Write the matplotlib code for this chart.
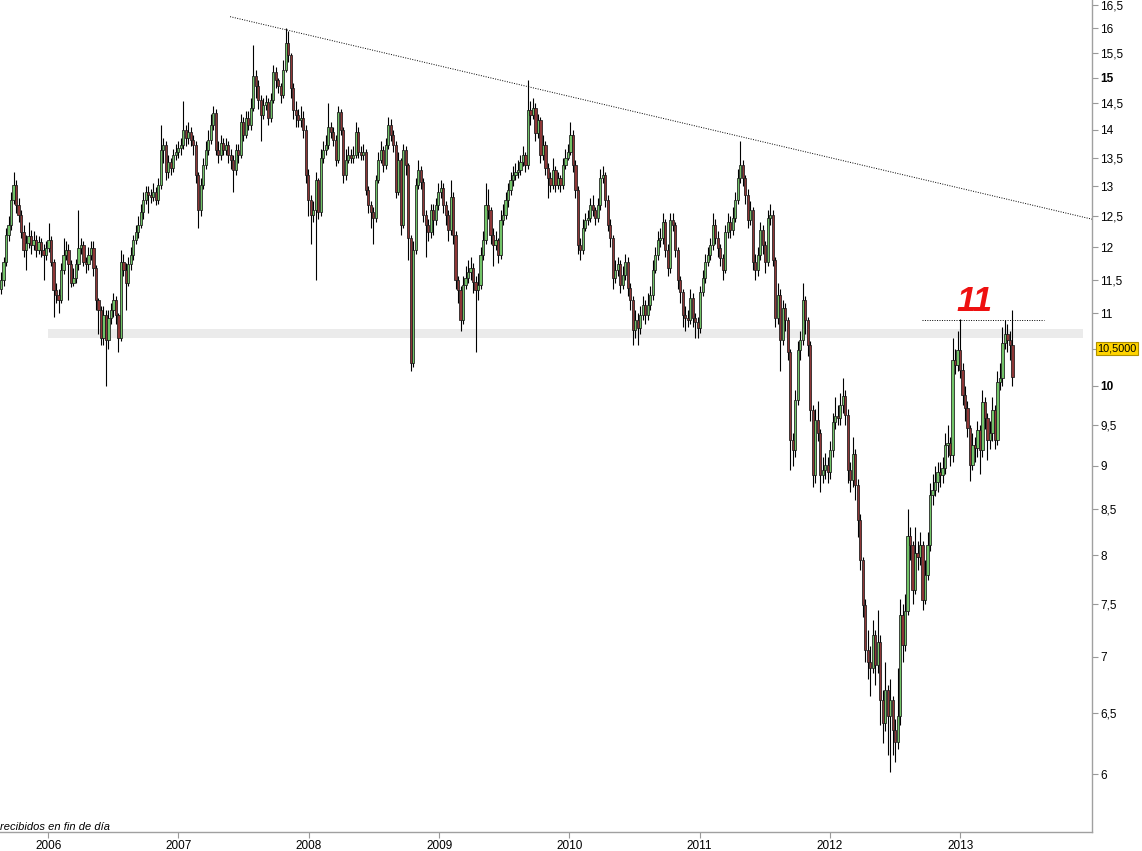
import numpy as np
import pandas as pd
import matplotlib
matplotlib.use('Agg')
import matplotlib.pyplot as plt
import matplotlib.dates as mdates
from matplotlib.ticker import NullLocator, NullFormatter
from matplotlib.transforms import blended_transform_factory

plt.rcParams['font.family'] = ['Liberation Sans', 'DejaVu Sans']

# weekly candles, first week of the series
week_start = '2005-08-22'
first_open = 11.35

closes = [
    11.49, 11.77, 12.19, 12.35, 12.77, 13.02, 12.68, 12.52, 12.24, 11.96,
    12.06, 12.17, 12.03, 12.11, 11.96, 12.08, 11.96, 11.88, 11.99, 12.11,
    11.77, 11.34, 11.27, 11.19, 11.65, 11.88, 11.96, 11.73, 11.45, 11.52,
    11.73, 11.99, 12.03, 11.77, 11.73, 11.88, 11.99, 11.68, 11.19, 11.05,
    10.65, 10.97, 10.62, 10.93, 11.05, 11.19, 10.97, 10.65, 11.77, 11.65,
    11.45, 11.73, 11.88, 12.11, 12.24, 12.35, 12.57, 12.77, 12.91, 12.86,
    12.82, 12.91, 12.77, 13.02, 13.64, 13.73, 13.25, 13.43, 13.32, 13.55,
    13.60, 13.67, 13.73, 14.00, 13.85, 13.96, 13.82, 13.73, 13.19, 12.60,
    13.02, 13.37, 13.64, 13.82, 14.10, 14.32, 13.64, 13.55, 13.76, 13.64,
    13.73, 13.55, 13.46, 13.28, 13.64, 13.55, 14.15, 13.91, 14.22, 14.10,
    14.41, 15.03, 14.84, 14.56, 14.28, 14.47, 14.52, 14.22, 14.56, 15.10,
    14.95, 14.84, 14.66, 15.15, 15.70, 15.45, 14.80, 14.37, 14.28, 14.19,
    14.22, 14.00, 13.19, 12.77, 12.52, 12.60, 13.11, 12.57, 13.50, 13.64,
    13.73, 14.06, 13.96, 13.82, 13.46, 14.34, 14.00, 13.19, 13.46, 13.55,
    13.50, 13.55, 13.96, 13.60, 13.55, 13.60, 12.94, 12.68, 12.57, 12.47,
    13.11, 13.46, 13.64, 13.37, 13.73, 14.10, 13.91, 13.73, 12.91, 13.46,
    12.35, 13.64, 13.37, 12.14, 10.31, 11.96, 13.02, 13.28, 13.08, 12.52,
    12.35, 12.24, 12.60, 12.44, 12.68, 12.91, 12.97, 12.68, 12.52, 12.27,
    12.82, 12.19, 11.49, 11.34, 10.90, 11.42, 11.52, 11.62, 11.68, 11.46,
    11.34, 11.42, 11.88, 12.11, 12.68, 12.60, 12.19, 12.03, 12.11, 11.88,
    12.44, 12.52, 12.77, 12.94, 13.11, 13.19, 13.25, 13.28, 13.43, 13.55,
    13.37, 14.37, 14.28, 14.41, 13.94, 14.19, 13.55, 13.73, 13.32, 13.14,
    13.02, 13.28, 13.02, 13.14, 13.02, 13.37, 13.50, 13.60, 13.91, 13.37,
    12.94, 12.03, 11.96, 12.30, 12.44, 12.47, 12.68, 12.60, 12.47, 12.68,
    13.15, 13.19, 12.77, 12.35, 12.14, 11.52, 11.65, 11.73, 11.42, 11.57,
    11.77, 11.37, 11.19, 10.76, 10.90, 10.79, 10.97, 11.12, 10.97, 11.12,
    11.27, 11.65, 11.88, 12.11, 12.14, 12.40, 11.96, 11.68, 12.44, 12.35,
    11.96, 11.49, 11.31, 10.97, 10.93, 10.90, 11.22, 10.93, 10.87, 10.79,
    11.31, 11.52, 11.77, 11.88, 12.03, 12.35, 12.14, 11.99, 11.83, 11.65,
    12.24, 12.40, 12.27, 12.47, 12.77, 13.14, 13.37, 13.14, 12.86, 12.44,
    12.60, 11.77, 11.65, 11.88, 12.27, 12.03, 11.77, 12.47, 12.52, 11.80,
    10.93, 11.27, 10.62, 11.08, 10.90, 10.45, 9.31, 9.19, 9.81, 10.48,
    10.62, 11.19, 10.90, 10.55, 9.69, 8.89, 9.56, 9.40, 8.89, 8.95,
    9.01, 8.93, 9.19, 9.53, 9.61, 9.59, 9.75, 9.87, 9.62, 8.95,
    8.83, 9.14, 8.78, 8.38, 7.95, 7.49, 7.06, 6.95, 6.90, 7.20,
    6.93, 7.14, 6.61, 6.42, 6.70, 6.48, 6.61, 6.36, 6.26, 6.48,
    7.40, 7.11, 7.44, 8.21, 8.11, 7.64, 8.03, 7.98, 8.11, 7.54,
    7.80, 8.11, 8.66, 8.72, 8.81, 8.93, 8.89, 8.98, 9.25, 9.28,
    9.13, 10.34, 10.28, 10.48, 10.21, 9.88, 9.71, 9.46, 9.01, 9.25,
    9.21, 9.43, 9.19, 9.79, 9.59, 9.31, 9.40, 9.69, 9.31, 10.05,
    10.10, 10.58, 10.70, 10.62, 10.55, 10.12,
]

highs = [
    11.62, 11.85, 12.30, 12.50, 12.90, 13.25, 13.10, 12.80, 12.60, 12.35,
    12.20, 12.40, 12.28, 12.25, 12.20, 12.18, 12.15, 12.05, 12.10, 12.38,
    12.18, 11.82, 11.45, 11.35, 11.75, 12.15, 12.10, 12.05, 11.80, 11.68,
    11.82, 12.60, 12.15, 12.10, 11.85, 12.00, 12.10, 12.10, 11.72, 11.22,
    11.10, 11.10, 11.05, 11.05, 11.15, 11.30, 11.25, 11.00, 11.95, 11.90,
    11.75, 11.85, 12.00, 12.20, 12.35, 12.50, 12.70, 12.90, 13.00, 13.00,
    12.95, 13.05, 12.98, 13.15, 14.10, 13.85, 13.80, 13.55, 13.50, 13.65,
    13.75, 13.80, 13.85, 14.55, 14.10, 14.15, 14.05, 13.90, 13.80, 13.25,
    13.15, 13.50, 13.80, 14.00, 14.30, 14.45, 14.40, 13.80, 13.90, 13.85,
    13.85, 13.80, 13.65, 13.55, 13.75, 13.75, 14.30, 14.25, 14.35, 14.35,
    14.60, 15.65, 15.15, 14.95, 14.65, 14.60, 14.65, 14.60, 14.70, 15.25,
    15.20, 15.00, 14.90, 15.35, 16.00, 15.95, 15.50, 14.90, 14.55, 14.40,
    14.45, 14.35, 14.10, 13.30, 12.85, 12.75, 13.25, 13.15, 13.65, 13.80,
    13.90, 14.50, 14.15, 14.05, 13.90, 14.45, 14.40, 14.05, 13.65, 13.70,
    13.65, 13.70, 14.15, 14.05, 13.70, 13.75, 13.65, 13.00, 12.75, 12.65,
    13.20, 13.60, 13.80, 13.70, 13.85, 14.25, 14.20, 14.00, 13.80, 13.60,
    13.50, 13.75, 13.70, 13.40, 12.20, 12.10, 13.15, 13.45, 13.35, 13.15,
    12.60, 12.45, 12.70, 12.70, 12.80, 13.05, 13.10, 13.05, 12.75, 12.60,
    13.10, 12.90, 12.25, 11.55, 11.40, 11.55, 11.70, 11.80, 11.85, 11.75,
    11.55, 11.60, 12.00, 12.25, 13.05, 12.95, 12.65, 12.30, 12.25, 12.15,
    12.60, 12.70, 12.90, 13.05, 13.25, 13.35, 13.40, 13.45, 13.55, 13.70,
    13.60, 14.95, 14.55, 14.60, 14.50, 14.30, 14.25, 13.90, 13.80, 13.40,
    13.25, 13.50, 13.35, 13.25, 13.20, 13.50, 13.65, 13.75, 14.15, 14.00,
    13.45, 13.00, 12.15, 12.45, 12.55, 12.60, 12.80, 12.85, 12.65, 12.80,
    13.30, 13.35, 13.25, 12.85, 12.45, 12.20, 11.80, 11.85, 11.80, 11.70,
    11.90, 11.85, 11.45, 11.25, 11.05, 11.00, 11.10, 11.25, 11.20, 11.30,
    11.40, 11.80, 12.00, 12.25, 12.30, 12.55, 12.45, 12.05, 12.55, 12.55,
    12.40, 12.00, 11.55, 11.35, 11.10, 11.05, 11.35, 11.30, 11.00, 10.95,
    11.40, 11.65, 11.90, 12.00, 12.15, 12.55, 12.45, 12.25, 12.05, 11.90,
    12.35, 12.55, 12.50, 12.65, 12.90, 13.30, 13.80, 13.45, 13.20, 12.95,
    12.75, 12.65, 11.90, 12.00, 12.40, 12.35, 12.10, 12.60, 12.70, 12.60,
    11.85, 11.45, 11.35, 11.20, 11.15, 10.95, 10.50, 9.40, 9.95, 10.60,
    10.75, 11.45, 11.25, 10.95, 10.60, 9.75, 9.70, 9.80, 9.45, 9.10,
    9.15, 9.10, 9.30, 9.65, 9.85, 9.75, 9.90, 10.10, 9.95, 9.70,
    9.05, 9.35, 9.20, 8.85, 8.45, 7.98, 7.55, 7.25, 7.10, 7.35,
    7.25, 7.45, 7.20, 6.70, 6.95, 6.75, 6.80, 6.65, 6.45, 6.90,
    7.55, 7.50, 7.60, 8.50, 8.30, 8.15, 8.30, 8.15, 8.25, 8.15,
    7.95, 8.25, 8.80, 8.90, 9.00, 9.05, 9.05, 9.10, 9.40, 9.50,
    9.35, 10.65, 10.50, 10.75, 10.92, 10.30, 10.00, 9.80, 9.50, 9.40,
    9.35, 9.55, 9.50, 9.95, 9.85, 9.65, 9.55, 9.85, 9.75, 10.20,
    10.30, 10.80, 10.90, 10.85, 10.75, 11.05,
]

lows = [
    11.28, 11.40, 11.70, 12.10, 12.28, 12.70, 12.55, 12.40, 12.15, 11.85,
    11.65, 11.98, 11.90, 11.95, 11.85, 11.90, 11.85, 11.50, 11.80, 11.92,
    11.70, 10.95, 11.15, 11.00, 11.15, 11.58, 11.80, 11.20, 11.38, 11.40,
    11.45, 11.65, 11.90, 11.70, 11.60, 11.65, 11.80, 11.55, 11.05, 10.70,
    10.55, 10.55, 10.00, 10.50, 10.85, 10.95, 10.85, 10.45, 10.60, 11.55,
    11.05, 11.40, 11.65, 11.80, 12.05, 12.15, 12.30, 12.45, 12.70, 12.55,
    12.72, 12.75, 12.68, 12.70, 12.95, 13.40, 13.10, 13.15, 13.20, 13.25,
    13.45, 13.50, 13.55, 13.65, 13.70, 13.75, 13.70, 13.55, 13.05, 12.30,
    12.50, 12.95, 13.30, 13.55, 13.75, 14.00, 13.55, 13.40, 13.45, 13.55,
    13.55, 13.40, 13.30, 12.90, 13.20, 13.40, 13.50, 13.80, 13.85, 14.00,
    14.00, 14.35, 14.60, 14.40, 13.80, 14.20, 14.38, 14.10, 14.15, 14.50,
    14.80, 14.70, 14.50, 14.60, 15.10, 15.30, 14.60, 14.20, 14.05, 14.05,
    14.05, 13.85, 13.05, 12.50, 12.05, 12.40, 11.50, 12.45, 12.50, 13.40,
    13.55, 13.65, 13.85, 13.70, 13.35, 13.40, 13.90, 13.05, 13.10, 13.40,
    13.40, 13.40, 13.50, 13.50, 13.45, 13.45, 12.85, 12.55, 12.30, 12.05,
    12.40, 13.05, 13.40, 13.25, 13.30, 13.65, 13.80, 13.60, 12.80, 12.85,
    12.20, 12.30, 13.20, 11.80, 10.20, 10.25, 11.90, 12.95, 12.95, 12.40,
    11.85, 12.10, 12.15, 12.20, 12.35, 12.60, 12.80, 12.55, 12.35, 12.10,
    12.20, 12.05, 11.35, 11.15, 10.75, 10.85, 11.35, 11.45, 11.50, 11.30,
    10.45, 11.20, 11.35, 11.80, 12.05, 12.45, 12.05, 11.70, 11.95, 11.75,
    11.82, 12.35, 12.45, 12.65, 12.85, 13.00, 13.10, 13.15, 13.20, 13.35,
    13.25, 13.30, 14.10, 14.20, 13.80, 13.85, 13.40, 13.45, 13.20, 12.80,
    12.90, 12.95, 12.90, 12.95, 12.90, 12.95, 13.30, 13.45, 13.55, 13.25,
    12.80, 11.90, 11.80, 11.90, 12.25, 12.35, 12.40, 12.50, 12.35, 12.40,
    12.60, 13.05, 12.65, 12.25, 12.00, 11.35, 11.45, 11.55, 11.30, 11.35,
    11.50, 11.25, 11.05, 10.55, 10.65, 10.55, 10.70, 10.90, 10.85, 10.90,
    11.05, 11.20, 11.60, 11.80, 12.00, 12.05, 11.85, 11.55, 11.60, 12.25,
    11.85, 11.35, 11.15, 10.80, 10.75, 10.80, 10.85, 10.80, 10.65, 10.65,
    10.72, 11.25, 11.45, 11.70, 11.80, 11.95, 12.05, 11.85, 11.70, 11.50,
    11.60, 12.15, 12.15, 12.20, 12.40, 12.70, 13.05, 13.00, 12.70, 12.30,
    12.35, 11.65, 11.50, 11.55, 11.80, 11.90, 11.60, 11.70, 12.35, 11.70,
    10.80, 10.85, 10.20, 10.55, 10.75, 10.35, 8.95, 9.00, 9.10, 9.75,
    10.35, 10.55, 10.70, 10.40, 9.55, 8.75, 8.80, 9.30, 8.70, 8.80,
    8.85, 8.80, 8.85, 9.10, 9.45, 9.50, 9.50, 9.65, 9.50, 8.80,
    8.70, 8.75, 8.60, 8.20, 7.85, 7.38, 6.95, 6.80, 6.65, 6.85,
    6.75, 6.85, 6.40, 6.25, 6.35, 6.15, 6.02, 6.15, 6.10, 6.20,
    6.40, 6.95, 7.05, 7.40, 7.95, 7.50, 7.60, 7.85, 7.90, 7.45,
    7.50, 7.75, 8.05, 8.55, 8.65, 8.70, 8.75, 8.80, 8.90, 9.10,
    9.00, 9.05, 10.15, 10.20, 10.10, 9.75, 9.55, 9.35, 8.82, 8.95,
    9.05, 9.10, 8.90, 9.10, 9.45, 9.07, 9.20, 9.30, 9.20, 9.25,
    9.95, 10.00, 10.50, 10.45, 10.35, 10.00,
]

year_ticks = [2006, 2007, 2008, 2009, 2010, 2011, 2012, 2013]
price_ticks = [6, 6.5, 7, 7.5, 8, 8.5, 9, 9.5, 10, 10.5, 11, 11.5, 12, 12.5,
               13, 13.5, 14, 14.5, 15, 15.5, 16, 16.5]
bold_ticks = [10, 15]

# drawn annotations
trend_dates = ['2007-05-26', '2014-01-05']
trend_values = [16.25, 12.45]
band_dates = ['2006-01-01', '2013-12-10']
band_low, band_high = 10.65, 10.77
resist_dates = ['2012-09-16', '2013-08-23']
resist_value = 10.9
resist_label = '11'
resist_label_date = '2013-02-11'
resist_label_value = 11.17
last_price = 10.5
footer = 'recibidos en fin de día'

opens = [first_open] + closes[:-1]
dates = pd.date_range(week_start, periods=len(closes), freq='7D')
x = mdates.date2num(dates)
o = np.array(opens)
c = np.array(closes)
body_lo = np.minimum(o, c)
body_hi = np.maximum(o, c)
colors = np.where(c >= o, '#72c468', '#8e3636')

fig = plt.figure(figsize=(11.42, 8.51), dpi=100)
ax = fig.add_axes([0, 1 - 832 / 851, 1092 / 1142, 832 / 851])
ax.set_yscale('log')

bd = mdates.date2num(pd.to_datetime(band_dates))
ax.fill_between(bd, band_low, band_high, color='#ebebeb', linewidth=0, zorder=0.5)

ax.vlines(x, lows, highs, color='black', linewidth=0.8, zorder=2)
ax.bar(x, np.maximum(body_hi - body_lo, 0.02), bottom=body_lo, width=6,
       color=colors, edgecolor='#1a1a1a', linewidth=0.55, zorder=3)

td = mdates.date2num(pd.to_datetime(trend_dates))
ax.plot(td, trend_values, color='black', linewidth=0.7, linestyle=(0, (1, 1.5)), zorder=4)
rd = mdates.date2num(pd.to_datetime(resist_dates))
ax.plot(rd, [resist_value, resist_value], color='black', linewidth=0.7,
        linestyle=(0, (1, 1.5)), zorder=4)
ax.text(mdates.date2num(pd.Timestamp(resist_label_date)), resist_label_value, resist_label,
        color='#ee1111', fontsize=25, fontweight='bold', fontstyle='italic',
        ha='center', va='center', zorder=5)

ax.set_xlim(mdates.date2num(pd.Timestamp('2005-08-19')), mdates.date2num(pd.Timestamp('2014-01-05')))
ax.set_ylim(5.56, 16.61)

ax.set_xticks(mdates.date2num(pd.to_datetime([f'{y}-01-01' for y in year_ticks])),
              labels=[str(y) for y in year_ticks])
ax.yaxis.tick_right()
# the last-price box takes the place of the 10,5 label
tick_labels = ['' if v == last_price else ('%g' % v).replace('.', ',') for v in price_ticks]
ax.set_yticks(price_ticks, labels=tick_labels)
ax.yaxis.set_minor_locator(NullLocator())
ax.yaxis.set_minor_formatter(NullFormatter())
for v, lbl in zip(price_ticks, ax.get_yticklabels()):
    if v in bold_ticks:
        lbl.set_fontweight('bold')
ax.tick_params(axis='both', direction='out', length=4, color='#999999', labelsize=8.5, pad=2)

for side in ['top', 'left']:
    ax.spines[side].set_visible(False)
for side in ['right', 'bottom']:
    ax.spines[side].set_color('#a0a0a0')
    ax.spines[side].set_linewidth(1)

trans = blended_transform_factory(ax.transAxes, ax.transData)
ax.text(1.005, last_price, ('%.4f' % last_price).replace('.', ','), transform=trans,
        fontsize=7.8, ha='left', va='center',
        bbox=dict(boxstyle='square,pad=0.12', facecolor='#ffd400', edgecolor='#b09000', linewidth=0.8))

fig.text(0.0, 1 - 830 / 851, footer, fontsize=8, fontstyle='italic', ha='left', va='baseline')

fig.savefig('out.png', dpi=100)
